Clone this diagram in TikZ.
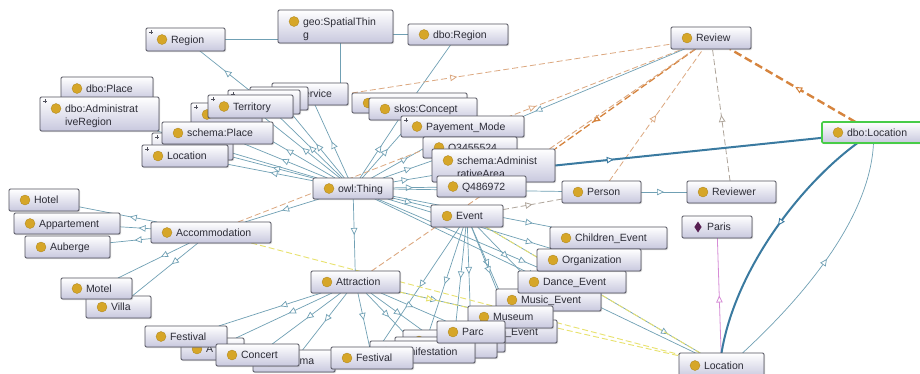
\documentclass[tikz,border=0pt]{standalone}
\usepackage{fontspec}
\newfontfamily\lblfont{Liberation Sans}
\usetikzlibrary{arrows.meta,decorations.markings,shadows}

\definecolor{boxbot}{RGB}{200,200,222}
\definecolor{boxline}{RGB}{80,80,92}
\definecolor{iconc}{RGB}{214,166,40}
\definecolor{lblc}{RGB}{45,45,55}
\definecolor{teal1}{RGB}{112,160,180}
\definecolor{tan1}{RGB}{220,168,128}
\definecolor{grayd}{RGB}{175,165,155}
\definecolor{orng}{RGB}{214,132,62}
\definecolor{yelc}{RGB}{232,226,110}
\definecolor{bluet}{RGB}{58,122,160}
\definecolor{pinkc}{RGB}{214,140,214}
\definecolor{greenb}{RGB}{72,204,72}
\definecolor{parisc}{RGB}{88,32,82}

\pgfdeclarelayer{paper}
\pgfdeclarelayer{links}
\pgfsetlayers{paper,links,main}

\tikzset{
  clsbox/.style={draw=boxline, line width=0.9pt, rounded corners=1.2pt,
    top color=white, bottom color=boxbot, inner sep=0pt, outer sep=0pt,
    drop shadow={opacity=0.3, shadow xshift=1pt, shadow yshift=-1pt}},
  lbl/.style={font=\lblfont\fontsize{10.5}{13.5}\selectfont, text=lblc, inner sep=0pt, outer sep=0pt},
  iconfill/.style={fill=iconc, draw=iconc!80!black, line width=0.3pt},
  tipo/.tip={Triangle[fill=white, length=7pt, width=6.5pt]},
  plain/.style={draw=teal1, line width=0.7pt},
  subc/.style={draw=teal1, line width=0.7pt,
    postaction={decorate, decoration={markings, mark=at position #1 with {\arrow{tipo}}}}},
  subc/.default=0.5,
  prop/.style={draw=tan1, line width=0.8pt, dash pattern=on 6pt off 3pt,
    postaction={decorate, decoration={markings, mark=at position #1 with {\arrow{tipo}}}}},
  prop/.default=0.5,
  propplain/.style={draw=tan1, line width=0.9pt, dash pattern=on 6pt off 3pt},
  propgray/.style={draw=grayd, line width=0.8pt, dash pattern=on 6pt off 3pt,
    postaction={decorate, decoration={markings, mark=at position #1 with {\arrow{tipo}}}}},
  orthick/.style={draw=orng, line width=1.3pt, dash pattern=on 7pt off 3pt,
    postaction={decorate, decoration={markings, mark=at position #1 with {\arrow{tipo}}}}},
  orbig/.style={draw=orng, line width=2.4pt, dash pattern=on 8pt off 4pt,
    postaction={decorate, decoration={markings, mark=at position #1 with {\arrow[line width=1pt]{tipo}}}}},
  yelline/.style={draw=yelc, line width=0.9pt, dash pattern=on 6pt off 3pt},
  yelarr/.style={yelline,
    postaction={decorate, decoration={markings, mark=at position #1 with {\arrow{tipo}}}}},
  pinkarr/.style={draw=pinkc, line width=0.8pt,
    postaction={decorate, decoration={markings, mark=at position #1 with {\arrow{tipo}}}}},
  bluearr/.style={draw=bluet, line width=2pt,
    postaction={decorate, decoration={markings, mark=at position #1 with {\arrow[line width=0.9pt]{tipo}}}}},
}

% class box, its icon, its label
\newcommand\ogbox[6][]{\node[clsbox,#1, minimum width={(#5)-(#3)}, minimum height={(#6)-(#4)}, anchor=north west] (#2) at (#3,#4) {};}
\newcommand\ogicon[1]{\filldraw[iconfill] ([xshift=16pt]#1.west) circle (5pt);}
\newcommand\oglabel[2]{\node[lbl, anchor=base west] (#1-t) at ([xshift=25pt,yshift=-3.8pt]#1.west) {#2};}
\newcommand\ogcls[7][]{\ogbox[#1]{#2}{#3}{#4}{#5}{#6}\ogicon{#2}\oglabel{#2}{#7}}
\newcommand\ogclsii[8][]{\ogbox[#1]{#2}{#3}{#4}{#5}{#6}%
  \filldraw[iconfill] ([xshift=16pt,yshift=-11.5pt]#2.north west) circle (5pt);%
  \node[lbl, anchor=north west, align=left] (#2-t) at ([xshift=25pt,yshift=-7.5pt]#2.north west) {#7\\#8};}
% small expand marker in the upper left corner
\newcommand\ogplus[1]{\draw[boxline, line width=0.5pt]
  ([xshift=5pt,yshift=-2pt]#1.north west) -- ++(0,4)
  ([xshift=3pt,yshift=-4pt]#1.north west) -- ++(4,0);}

\begin{document}
\begin{tikzpicture}[x=1pt, y=-1pt]
\useasboundingbox (0,0) rectangle (920,373);
\begin{pgfonlayer}{paper}
  \fill[white] (0,0) rectangle (920,373);
\end{pgfonlayer}

% ---- upper left: places and regions
\ogcls{region}{146}{28}{225}{51}{Region}\ogplus{region}
\ogclsii{spatial}{278}{10}{393}{43}{geo:SpatialThin}{g}
\ogcls{dboregion}{408}{24}{508}{45}{dbo:Region}
\ogcls{dboplace}{61}{77}{153}{100}{dbo:Place}
\ogclsii{adminreg}{40}{97}{159}{131}{dbo:Administrat}{iveRegion}\ogplus{adminreg}
\ogcls{serv}{272}{83}{348}{105}{Service}
\ogbox{b1}{250}{87}{308}{110}
\ogbox{b2}{228}{90}{300}{114}\ogplus{b2}
\ogbox{b3}{191}{103}{262}{126}\ogicon{b3}\ogplus{b3}
\ogcls{territory}{208}{95}{293}{118}{Territory}\ogplus{territory}
\ogbox{b4}{152}{133}{233}{160}\ogplus{b4}
\ogcls{schemaplace}{162}{122}{273}{144}{schema:Place}
\ogcls{location1}{142}{145}{228}{167}{Location}\ogplus{location1}

% ---- right of the root
\ogbox{b5}{352}{93}{467}{113}\ogicon{b5}
\ogcls{skos}{369}{98}{477}{120}{skos:Concept}
\ogcls{payment}{401}{116}{524}{137}{Payement\_Mode}\ogplus{payment}
\ogcls{q345}{423}{137}{517}{158}{Q3455524}
\ogclsii{schemaadmin}{432}{149}{555}{182}{schema:Administ}{rativeArea}
\ogcls{q486}{437}{176}{526}{197}{Q486972}

\ogcls{owl}{313}{178}{393}{199}{owl:Thing}
\ogcls{event}{431}{205}{503}{227}{Event}
\ogcls{person}{562}{181}{641}{203}{Person}
\ogcls{reviewer}{687}{181}{776}{203}{Reviewer}
\ogbox{paris}{682}{216}{752}{238}
\fill[parisc] ([xshift=16pt,yshift=5.5pt]paris.west) -- ++(3.6,5.5) -- ++(-3.6,5.5) -- ++(-3.6,-5.5) -- cycle;
\oglabel{paris}{Paris}
\ogcls{review}{671}{27}{751}{49}{Review}
\ogcls[draw=greenb, line width=1.6pt]{dboloc}{822}{122}{925}{143}{dbo:Location}
\ogcls{locbot}{679}{353}{764}{378}{Location}

% ---- events
\ogcls{children}{550}{227}{667}{249}{Children\_Event}
\ogcls{music}{496}{289}{601}{311}{Music\_Event}
\ogcls{dance}{518}{271}{626}{293}{Dance\_Event}
\ogcls{org}{537}{249}{641}{271}{Organization}
\ogbox{hev}{470}{320}{557}{343}
\node[lbl, anchor=base east] (hev-t) at ([xshift=-19pt,yshift=-3.8pt]hev.east) {\_Event};
\ogcls{museum}{468}{306}{553}{328}{Museum}
\ogbox{b6}{403}{330}{505}{352}\ogicon{b6}
\ogbox{b7}{395}{337}{497}{358}
\ogcls{manif}{370}{341}{475}{363}{Manifestation}
\ogcls{parc}{437}{321}{505}{343}{Parc}

% ---- attractions
\ogcls{attraction}{311}{271}{400}{293}{Attraction}
\ogcls{aq}{181}{338}{244}{360}{A}
\ogcls{festival1}{145}{326}{227}{347}{Festival}
\ogcls{cinema}{253}{350}{335}{372}{Cinema}
\ogcls{concert}{216}{344}{299}{366}{Concert}
\ogcls{festival2}{331}{347}{413}{369}{Festival}

% ---- accommodations
\ogcls{accommodation}{151}{222}{271}{243}{Accommodation}
\ogcls{hotel}{9}{189}{79}{211}{Hotel}
\ogcls{appart}{14}{213}{120}{234}{Appartement}
\ogcls{auberge}{25}{236}{110}{258}{Auberge}
\ogcls{villa}{86}{296}{151}{318}{Villa}
\ogcls{motel}{61}{278}{132}{299}{Motel}

% ================= links
\begin{pgfonlayer}{links}
  % region chain
  \path[plain] (region.east) -- (spatial.west |- region.east);
  \path[plain] (spatial.east |- dboregion.west) -- (dboregion.west);
  \path[plain] ([xshift=5pt]spatial.south) -- ([xshift=5pt]spatial.south |- serv.north);
  \path[plain] (dboregion) -- (b5);
  \path[subc=0.5] (b2) -- (region);

  % subclasses of the root
  \foreach \t/\p in {location1/0.5, b4/0.5, schemaplace/0.55, b3/0.55, territory/0.5,
      b2/0.5, b1/0.5, serv/0.5, adminreg/0.9, b5/0.5, skos/0.5, payment/0.5, q345/0.5,
      schemaadmin/0.4, q486/0.45, person/0.55, event/0.5, attraction/0.5,
      accommodation/0.5, children/0.88, org/0.88, dance/0.88, locbot/0.5}
    \path[subc=\p] (owl) -- (\t);

  % event branch
  \foreach \t/\p in {music/0.5, museum/0.5, parc/0.5, manif/0.5, b6/0.5,
      festival2/0.5, hev/0.5}
    \path[subc=\p] (event) -- (\t);
  \path[subc=0.85] (event) -- (locbot);

  % attraction branch
  \foreach \t/\p in {festival1/0.4, aq/0.45, concert/0.5, cinema/0.5, festival2/0.5,
      manif/0.5, parc/0.5, museum/0.55, b7/0.5}
    \path[subc=\p] (attraction) -- (\t);

  % accommodation branch
  \foreach \t/\p in {hotel/0.35, appart/0.4, auberge/0.4, motel/0.4, villa/0.4}
    \path[subc=\p] (accommodation) -- (\t);

  \path[subc=0.5] (person) -- (reviewer);

  % properties around Review
  \path[prop=0.33] (b5.north west) -- (review);
  \path[prop=0.67] (accommodation) -- (review);
  \path[subc=0.93] (review) -- (payment.north east);
  \path[orthick=0.73] (review) -- (schemaadmin.north east);
  \path[propplain] (attraction) -- (review);
  \path[prop=0.5] (person) -- (review);
  \path[propgray=0.5] (reviewer) -- (review);
  \path[propgray=0.5] (event) -- (person);
  \path[orbig=0.48] (dboloc) -- (review);

  % properties towards Location
  \path[yelline] (accommodation) -- (locbot);
  \path[yelarr=0.12] (attraction) -- (locbot);
  \path[yelline] (event) -- (locbot);
  \path[pinkarr=0.5] (locbot) -- (paris);

  % dbo:Location links
  \path[bluearr=0.22] (schemaadmin.east) -- (dboloc);
  \path[bluearr=0.45] ([xshift=-16pt]dboloc.south) .. controls (800,185) and (735,270) .. (locbot.north);
  \path[subc=0.5] ([xshift=21pt]locbot.north) .. controls (800,300) and (870,220) .. (dboloc.south);
\end{pgfonlayer}
\end{tikzpicture}
\end{document}
